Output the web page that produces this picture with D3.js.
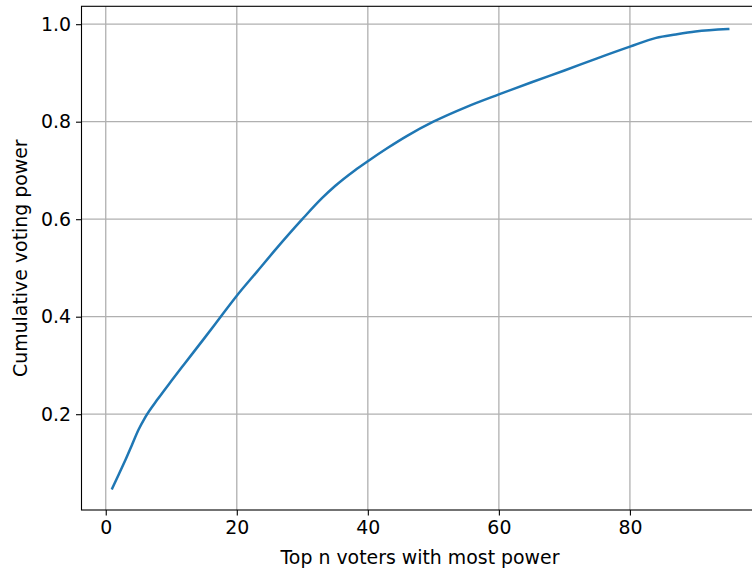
<!DOCTYPE html>
<html>
<head>
<meta charset="utf-8">
<script src="https://cdn.jsdelivr.net/npm/d3@7"></script>
<style>
  body { margin: 0; background: #fff; }
  svg { display: block; font-family: "DejaVu Sans", sans-serif; }
</style>
</head>
<body>
<div id="chart"></div>
<script>
// values: top n voters -> cumulative share of power
var topN = [1, 2, 3, 4, 5, 6, 8, 10, 12, 15, 18, 20, 23, 26, 30, 33, 35, 38, 40,
            43, 46, 50, 55, 60, 65, 70, 75, 80, 84, 87, 90, 95];
var cumPower = [0.048, 0.077, 0.106, 0.137, 0.168, 0.193, 0.232, 0.268, 0.303, 0.355,
                0.408, 0.443, 0.491, 0.539, 0.600, 0.643, 0.668, 0.700, 0.719,
                0.746, 0.771, 0.800, 0.830, 0.856, 0.881, 0.905, 0.930, 0.954,
                0.972, 0.979, 0.985, 0.990];
var xTicks = [0, 20, 40, 60, 80];
var yTicks = [0.2, 0.4, 0.6, 0.8, 1.0];

var W = 752, H = 571;
var padL = 81.5, padR = 759, padT = 6.3, padB = 510;
var fs = "18.9px";

var data = topN.map(function (n, i) { return {n: n, v: cumPower[i]}; });

var x = d3.scaleLinear().domain([-3.7, 99.7]).range([padL, padR]);
var y = d3.scaleLinear().domain([0.0035, 1.0367]).range([padB, padT]);

var svg = d3.select("#chart").append("svg")
    .attr("width", W)
    .attr("height", H);

// grid
svg.append("g").selectAll("line").data(xTicks).enter().append("line")
    .attr("x1", function (d) { return x(d); })
    .attr("x2", function (d) { return x(d); })
    .attr("y1", padT).attr("y2", padB)
    .attr("stroke", "#b0b0b0").attr("stroke-width", 1.3);
svg.append("g").selectAll("line").data(yTicks).enter().append("line")
    .attr("y1", function (d) { return y(d); })
    .attr("y2", function (d) { return y(d); })
    .attr("x1", padL).attr("x2", padR)
    .attr("stroke", "#b0b0b0").attr("stroke-width", 1.3);

// axes
var xAxis = svg.append("g")
    .attr("transform", "translate(0," + padB + ")")
    .call(d3.axisBottom(x).tickValues(xTicks).tickFormat(d3.format("d"))
        .tickSize(5.5).tickPadding(5).tickSizeOuter(0));
var yAxis = svg.append("g")
    .attr("transform", "translate(" + padL + ",0)")
    .call(d3.axisLeft(y).tickValues(yTicks).tickFormat(d3.format(".1f"))
        .tickSize(5.5).tickPadding(5).tickSizeOuter(0));

[xAxis, yAxis].forEach(function (a) {
    a.select(".domain").remove();
    a.selectAll("line").attr("stroke", "#000").attr("stroke-width", 1.1);
    a.selectAll("text")
        .attr("font-family", "DejaVu Sans, sans-serif")
        .attr("font-size", fs)
        .attr("fill", "#000");
});

// line
var line = d3.line()
    .x(function (d) { return x(d.n); })
    .y(function (d) { return y(d.v); })
    .curve(d3.curveMonotoneX);

svg.append("path")
    .datum(data)
    .attr("d", line)
    .attr("fill", "none")
    .attr("stroke", "#1f77b4")
    .attr("stroke-width", 2.5)
    .attr("stroke-linecap", "square");

// frame
svg.append("rect")
    .attr("x", padL).attr("y", padT)
    .attr("width", padR - padL).attr("height", padB - padT)
    .attr("fill", "none").attr("stroke", "#000").attr("stroke-width", 1.1);

// labels
svg.append("text")
    .text("Top n voters with most power")
    .attr("x", 420)
    .attr("y", 564)
    .attr("text-anchor", "middle")
    .attr("font-size", fs);

svg.append("text")
    .text("Cumulative voting power")
    .attr("transform", "translate(27," + (padT + padB) / 2 + ") rotate(-90)")
    .attr("text-anchor", "middle")
    .attr("font-size", fs);
</script>
</body>
</html>
